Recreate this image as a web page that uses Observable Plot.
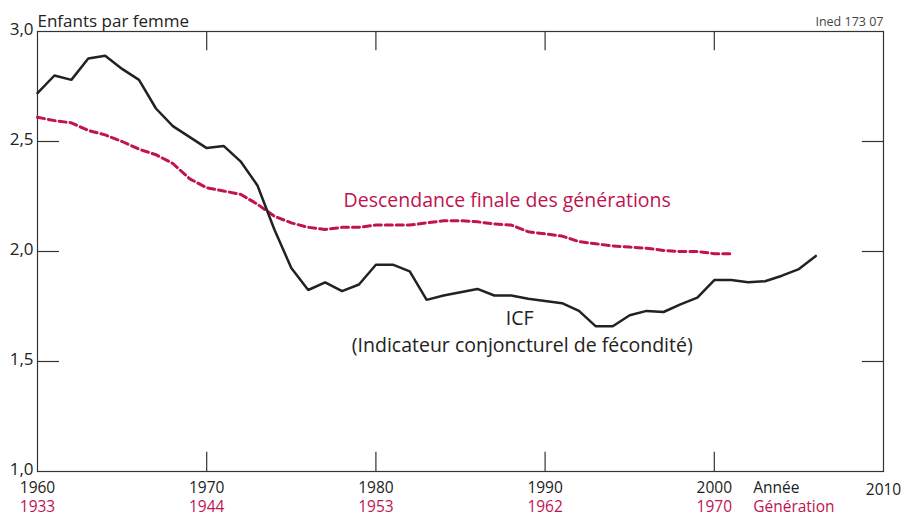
<!DOCTYPE html>
<html><head><meta charset="utf-8">
<script src="https://cdn.jsdelivr.net/npm/d3@7"></script>
<script src="https://cdn.jsdelivr.net/npm/@observablehq/plot@0.6"></script>
<style>body{margin:0;background:#fff;font-family:"Open Sans",sans-serif}</style>
</head><body><div id="chart"></div>
<script>
// Année (year of observation)
const icfYears = [1960,1961,1962,1963,1964,1965,1966,1967,1968,1969,1970,1971,1972,1973,1974,1975,1976,1977,1978,1979,1980,1981,1982,1983,1984,1985,1986,1987,1988,1989,1990,1991,1992,1993,1994,1995,1996,1997,1998,1999,2000,2001,2002,2003,2004,2005,2006];
// ICF (Indicateur conjoncturel de fécondité)
const icfValues = [2.72,2.80,2.78,2.877,2.89,2.83,2.78,2.65,2.57,2.52,2.47,2.48,2.41,2.30,2.10,1.925,1.825,1.86,1.82,1.85,1.94,1.94,1.91,1.78,1.80,1.815,1.83,1.80,1.80,1.785,1.775,1.765,1.73,1.66,1.66,1.71,1.73,1.725,1.76,1.79,1.87,1.87,1.86,1.865,1.89,1.92,1.98];
// Descendance finale des générations (plotted at year)
const dfYears = [1960,1961,1962,1963,1964,1965,1966,1967,1968,1969,1970,1971,1972,1973,1974,1975,1976,1977,1978,1979,1980,1981,1982,1983,1984,1985,1986,1987,1988,1989,1990,1991,1992,1993,1994,1995,1996,1997,1998,1999,2000,2001];
const dfValues = [2.61,2.595,2.585,2.55,2.53,2.50,2.465,2.44,2.40,2.33,2.29,2.275,2.26,2.215,2.16,2.13,2.11,2.10,2.11,2.11,2.12,2.12,2.12,2.13,2.14,2.14,2.135,2.125,2.12,2.09,2.08,2.07,2.045,2.035,2.025,2.02,2.015,2.005,2.00,2.00,1.99,1.99];
// Tick labels
const yearTicks = [1960,1970,1980,1990,2000];
const generationLabels = ["1933","1944","1953","1962","1970"];
const innerXTicks = [1970,1980,1990,2000];
const yTicks = [1.0,1.5,2.0,2.5,3.0];
const innerYTicks = [1.5,2.0,2.5];

const icf = icfYears.map((x,i)=>({x, y: icfValues[i]}));
const df = dfYears.map((x,i)=>({x, y: dfValues[i]}));
const gens = yearTicks.map((x,i)=>({x, g: generationLabels[i]}));

const RED = "#c01350";
const INK = "#222";
const AX = 15.5;
const AN = 19.5;

const chart = Plot.plot({
  width: 909, height: 517,
  marginLeft: 37, marginTop: 31, marginRight: 26, marginBottom: 46,
  style: {fontFamily: "'Open Sans', sans-serif", fontSize: AX+"px", color: INK, background: "#fff"},
  x: {domain: [1960, 2010], axis: null},
  y: {domain: [1, 3], axis: null},
  marks: [
    Plot.frame({stroke: "#333", strokeWidth: 1.2}),
    Plot.ruleX(innerXTicks, {x: d=>d, y1: 1, y2: 1.088, stroke: "#333", strokeWidth: 1.2}),
    Plot.ruleX(innerXTicks, {x: d=>d, y1: 3, y2: 2.913, stroke: "#333", strokeWidth: 1.2}),
    Plot.ruleY(innerYTicks, {y: d=>d, x1: 1960, x2: 1961.3, stroke: "#333", strokeWidth: 1.2}),
    Plot.ruleY(innerYTicks, {y: d=>d, x1: 2010, x2: 2008.75, stroke: "#333", strokeWidth: 1.2}),
    Plot.line(df, {x: "x", y: "y", stroke: RED, strokeWidth: 3, strokeDasharray: "7,4", curve: "linear"}),
    Plot.line(icf, {x: "x", y: "y", stroke: INK, strokeWidth: 2.5, strokeLinejoin: "miter"}),
    // y tick labels
    Plot.text(yTicks, {x: 1960, y: d=>d, text: d=>d.toFixed(1).replace(".", ","), textAnchor: "end", dx: -4, dy: -2, fill: INK, fontSize: 17}),
    // x labels
    Plot.text(yearTicks, {x: d=>d, frameAnchor: "bottom", dy: 21, text: d=>String(d), fill: INK, fontSize: AX}),
    Plot.text([2010], {x: d=>d, frameAnchor: "bottom", dy: 23, text: d=>String(d), fill: INK, fontSize: AX}),
    Plot.text(gens, {x: "x", frameAnchor: "bottom", dy: 40, text: "g", fill: RED, fontSize: AX}),
    Plot.text(["Année"], {x: 2002.3, frameAnchor: "bottom", dy: 21, textAnchor: "start", fill: INK, fontSize: AX}),
    Plot.text(["Génération"], {x: 2002.3, frameAnchor: "bottom", dy: 40, textAnchor: "start", fill: RED, fontSize: AX}),
    // titles
    Plot.text(["Enfants par femme"], {frameAnchor: "top-left", dy: -17, textAnchor: "start", fill: INK, fontSize: 17}),
    Plot.text(["Ined 173 07"], {frameAnchor: "top-right", dy: -14, textAnchor: "end", fill: "#444", fontSize: 12.5}),
    // annotations
    Plot.text(["Descendance finale des générations"], {x: 1987.76, y: 2.231, fill: RED, fontSize: AN}),
    Plot.text(["ICF"], {x: 1988.5, y: 1.694, fill: INK, fontSize: AN}),
    Plot.text(["(Indicateur conjoncturel de fécondité)"], {x: 1988.65, y: 1.572, fill: INK, fontSize: AN})
  ]
});
document.getElementById("chart").append(chart);
</script>
</body></html>
